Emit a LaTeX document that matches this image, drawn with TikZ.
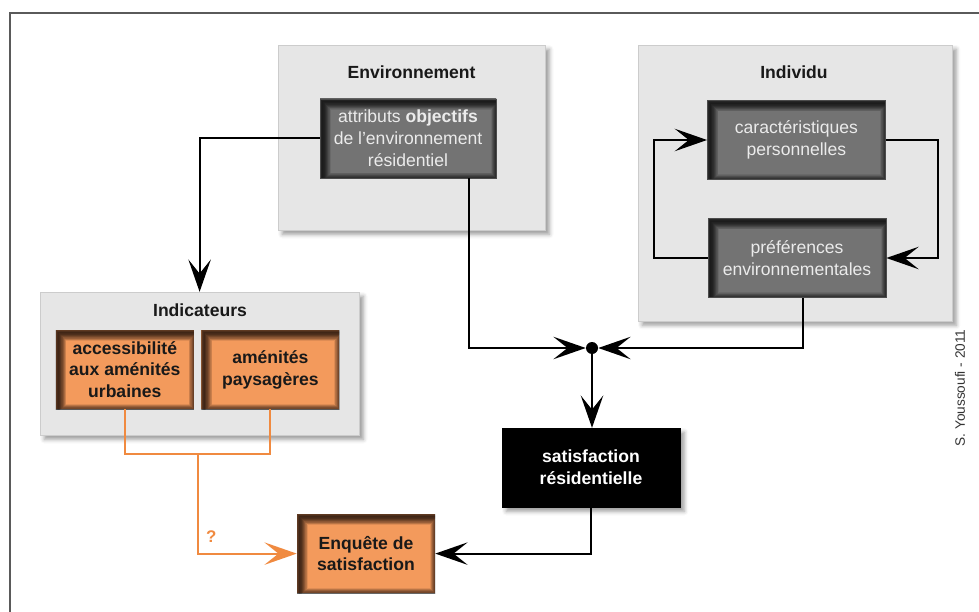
\documentclass[tikz,border=0pt]{standalone}
\usepackage{fontspec}
\setmainfont{Liberation Sans}
\usepackage{tikz}
\usetikzlibrary{arrows.meta,positioning,calc,shadows.blur}
\definecolor{panelgray}{HTML}{E6E6E6}
\definecolor{boxgray}{HTML}{737373}
\definecolor{boxorange}{HTML}{F39A5C}
\definecolor{lineorange}{HTML}{F08A40}
\definecolor{framegray}{HTML}{5A5A5A}

\begin{document}
\begin{tikzpicture}[
  x=1cm, y=1cm,
  inset/.style={path picture={
    \foreach \w in {1,...,14}{
      \draw[black, opacity=0.085, line width=\w*0.8pt]
        ([xshift=2pt,yshift=-2pt]path picture bounding box.south west) rectangle
        ([xshift=2pt,yshift=-2pt]path picture bounding box.north east);
    }}},
  panel/.style={fill=panelgray, draw=gray!40, line width=0.4pt,
    blur shadow={shadow xshift=3pt, shadow yshift=-3pt, shadow blur radius=3pt}},
  title/.style={font=\bfseries\fontsize{12.5}{15}\selectfont, text=black!90},
  graybox/.style={fill=boxgray, draw=black!70, line width=0.5pt, inset,
    minimum width=4.45cm, minimum height=1.975cm, align=center,
    text=white!92!black, font=\fontsize{12.5}{15.5}\selectfont},
  orbox/.style={fill=boxorange, inset,
    minimum width=3.45cm, minimum height=1.975cm, align=center,
    text=black!90, font=\bfseries\fontsize{12.5}{15.5}\selectfont},
  blackbox/.style={fill=black, draw=black, minimum width=4.45cm, minimum height=1.975cm,
    align=center, text=white, font=\bfseries\fontsize{12.5}{15.5}\selectfont,
    blur shadow={shadow xshift=3pt, shadow yshift=-3pt, shadow blur radius=3pt}},
  arr/.style={-{Stealth[length=23pt, width=16pt, inset=10pt]}, line width=1.4pt, black},
  orarr/.style={-{Stealth[length=23pt, width=16pt, inset=10pt]}, line width=1.4pt, lineorange},
  orline/.style={line width=1.4pt, lineorange}
]
\useasboundingbox (0,0) rectangle (24.475,-15.3);
%% ─── Frame ─────────────────────────────────────────────────────────────────
\draw[framegray, line width=1.6pt] (0.25,-15.3) -- (0.25,-0.325) -- (24.475,-0.325);
%% ─── Panels ────────────────────────────────────────────────────────────────
\node[panel, minimum width=6.675cm, minimum height=4.625cm] (envp)  at (10.29, -3.44) {};
\node[panel, minimum width=7.85cm,  minimum height=6.9cm]   (indvp) at (19.875,-4.575) {};
\node[panel, minimum width=7.975cm, minimum height=3.575cm] (indp)  at (4.99,  -9.09) {};
\node[title] (envt)  at (10.29, -1.8)  {Environnement};
\node[title] (indvt) at (19.85, -1.8)  {Individu};
\node[title] (indt)  at (5.0,   -7.75) {Indicateurs};
%% ─── Boxes ─────────────────────────────────────────────────────────────────
\node[graybox, minimum width=4.4cm] (attr)  at (10.2,  -3.46) {attributs \textbf{objectifs}\\de l'environnement\\résidentiel};
\node[graybox] (carac) at (19.91, -3.5)  {caractéristiques\\personnelles};
\node[graybox] (pref)  at (19.925,-6.45) {préférences\\environnementales};
\node[orbox]   (acces) at (3.12,  -9.24) {accessibilité\\aux aménités\\urbaines};
\node[orbox]   (amen)  at (6.76,  -9.24) {aménités\\paysagères};
\node[circle, fill=black, inner sep=0pt, minimum size=0.3cm] (dot) at (14.8,-8.7) {};
\node[blackbox] (satis) at (14.775,-11.69) {satisfaction\\résidentielle};
\node[orbox]    (enq)   at (9.15, -13.84) {Enquête de\\satisfaction};
\node[rotate=90, text=black!80, font=\fontsize{9.7}{11}\selectfont] (credit) at (24.0,-9.7) {S. Youssoufi - 2011};
%% ─── Arrows ────────────────────────────────────────────────────────────────
\draw[arr] (attr.west) -| (indp.north);
\draw[arr] ([xshift=-0.675cm]attr.south east) |- (dot);
\draw[arr] ([xshift=0.15cm]pref.south) |- (dot);
\draw[arr] (dot) -- (dot |- satis.north);
\draw[arr] (satis.south) |- (enq.east);
\draw[arr] (carac.east) -- ++(1.3,0) |- (pref.east);
\draw[arr] (pref.west) -- ++(-1.35,0) |- (carac.west);
%% ─── Orange branch ─────────────────────────────────────────────────────────
\draw[orline] (acces.south) -- ++(0,-1.125) coordinate (jl) -| (amen.south);
\coordinate (jn) at ($(jl)!0.5!(jl -| amen.south)$);
\draw[orarr] (jn) |- node[pos=0.5, above right, xshift=2pt, yshift=4pt, text=lineorange,
  font=\bfseries\fontsize{12}{14}\selectfont]{?} (enq.west);
\end{tikzpicture}
\end{document}
